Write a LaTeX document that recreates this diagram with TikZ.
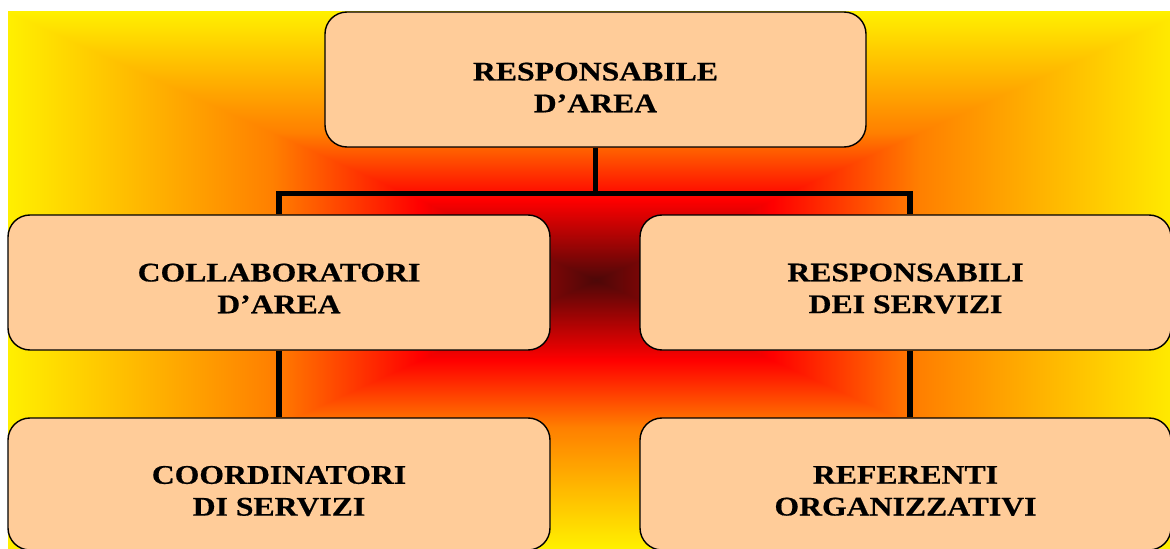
\documentclass[tikz,border=0pt]{standalone}
\usepackage{fontspec}
\setmainfont{Liberation Serif}[FakeStretch=1.18,FakeBold=0.5]
\definecolor{peach}{HTML}{FFCC99}
% rectangular shading from the centre: dark red, red, orange, yellow
\pgfdeclarefunctionalshading{fromcentre}{\pgfpoint{-50bp}{-50bp}}{\pgfpoint{50bp}{50bp}}{}{
  abs exch abs 2 copy lt {exch} if pop 25 div
  dup 1 gt {pop 1} if
  dup 0.3 lt
  {0.3 div dup 0.7 mul 0.3 add exch 1 exch sub 0.03 mul dup}
  {dup 0.55 lt
    {0.3 sub 0.25 div 0.5 mul 1 exch 0}
    {0.55 sub 0.45 div 0.44 mul 0.5 add 1 exch 0}
    ifelse}
  ifelse
}
\begin{document}
\begin{tikzpicture}[line join=miter,thick]
	\tikzset{box/.style={draw,fill=peach,rounded corners=0.44cm,line width=0.8pt},
		lbl/.style={font=\fontsize{15.3pt}{18.1pt}\selectfont\bfseries,align=center},
		link/.style={line width=3pt}}
	\useasboundingbox (0,0) rectangle (23.4,10.96);
	\shade[shading=fromcentre] (0.16,0) rectangle (23.68,10.72);
	% boxes
	\node[box,minimum width=10.82cm,minimum height=2.7cm] (resp) at (11.91,9.37) {};
	\node[box,minimum width=10.84cm,minimum height=2.7cm] (collab) at (5.58,5.31) {};
	\node[box,minimum width=10.62cm,minimum height=2.7cm] (respserv) at (18.11,5.31) {};
	\node[box,minimum width=10.84cm,minimum height=2.64cm] (coord) at (5.58,1.28) {};
	\node[box,minimum width=10.62cm,minimum height=2.64cm] (refer) at (18.11,1.28) {};
	% texts
	\node[lbl] (resp-t) at ([yshift=-0.16cm]resp.center) {RESPONSABILE\\D’AREA};
	\node[lbl] (collab-t) at ([yshift=-0.12cm]collab.center) {COLLABORATORI\\D’AREA};
	\node[lbl] (respserv-t) at ([yshift=-0.12cm]respserv.center) {RESPONSABILI\\DEI SERVIZI};
	\node[lbl] (coord-t) at ([yshift=-0.14cm]coord.center) {COORDINATORI\\DI SERVIZI};
	\node[lbl] (refer-t) at ([yshift=-0.14cm]refer.center) {REFERENTI\\ORGANIZZATIVI};
	% links
	\draw[link] (resp.south) -- ++(0,-0.91) coordinate (fork) -| (collab.north);
	\draw[link] (fork) -| ([xshift=0.09cm]respserv.north);
	\draw[link] (collab.south) -- (coord.north);
	\draw[link] ([xshift=0.09cm]respserv.south) -- ([xshift=0.09cm]refer.north);
\end{tikzpicture}
\end{document}
